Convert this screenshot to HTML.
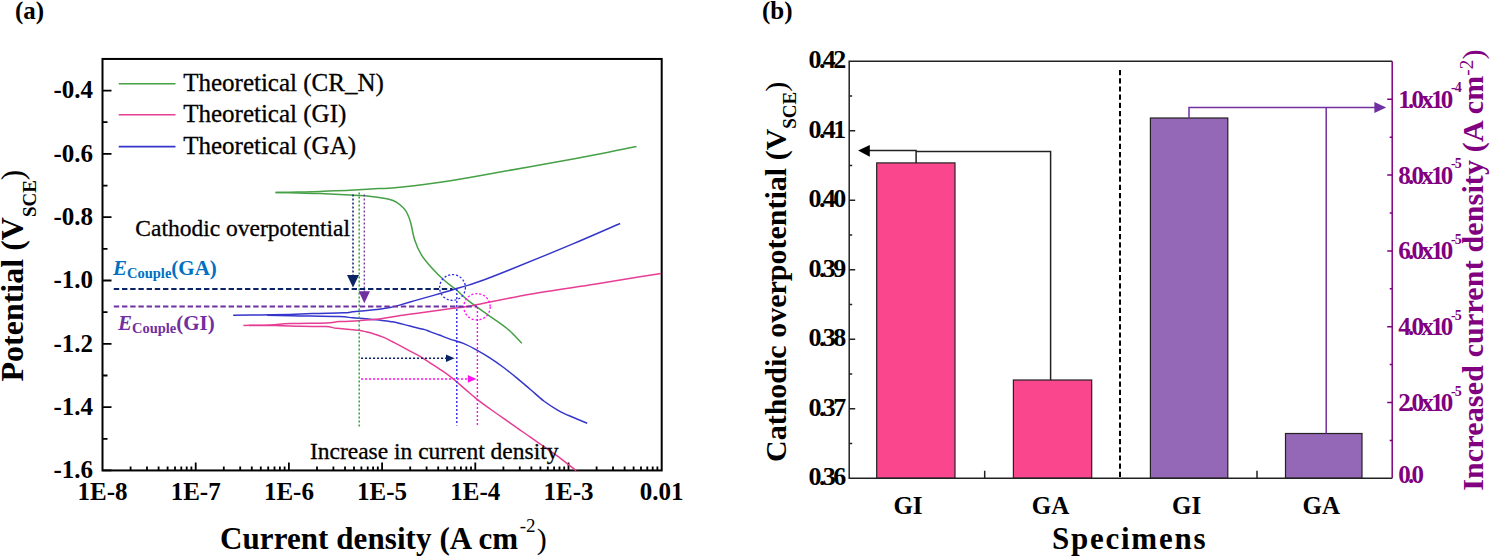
<!DOCTYPE html>
<html><head><meta charset="utf-8"><style>
html,body{margin:0;padding:0;background:#fff;}
svg{display:block;}
text{font-family:"Liberation Serif",serif;}
</style></head><body>
<svg width="1497" height="560" viewBox="0 0 1497 560">
<rect width="1497" height="560" fill="#fff"/>
<text x="15" y="19.3" font-family="Liberation Serif" font-size="25" font-weight="bold">(a)</text>
<rect x="102.5" y="58.94999999999999" width="559.2" height="411.5" fill="none" stroke="#000" stroke-width="2"/>
<path d="M102.5,90.6h9 M102.5,122.2h5 M102.5,153.9h9 M102.5,185.6h5 M102.5,217.2h9 M102.5,248.8h5 M102.5,280.5h9 M102.5,312.1h5 M102.5,343.8h9 M102.5,375.5h5 M102.5,407.1h9 M102.5,438.8h5 M102.5,470.4h9 M130.6,470.4000000000001v-4 M147.0,470.4000000000001v-4 M158.6,470.4000000000001v-4 M167.6,470.4000000000001v-4 M175.0,470.4000000000001v-4 M181.3,470.4000000000001v-4 M186.7,470.4000000000001v-4 M191.4,470.4000000000001v-4 M195.7,470.4000000000001v-8 M223.8,470.4000000000001v-4 M240.2,470.4000000000001v-4 M251.8,470.4000000000001v-4 M260.8,470.4000000000001v-4 M268.2,470.4000000000001v-4 M274.5,470.4000000000001v-4 M279.9,470.4000000000001v-4 M284.6,470.4000000000001v-4 M288.9,470.4000000000001v-8 M317.0,470.4000000000001v-4 M333.4,470.4000000000001v-4 M345.0,470.4000000000001v-4 M354.0,470.4000000000001v-4 M361.4,470.4000000000001v-4 M367.7,470.4000000000001v-4 M373.1,470.4000000000001v-4 M377.8,470.4000000000001v-4 M382.1,470.4000000000001v-8 M410.2,470.4000000000001v-4 M426.6,470.4000000000001v-4 M438.2,470.4000000000001v-4 M447.2,470.4000000000001v-4 M454.6,470.4000000000001v-4 M460.9,470.4000000000001v-4 M466.3,470.4000000000001v-4 M471.0,470.4000000000001v-4 M475.3,470.4000000000001v-8 M503.4,470.4000000000001v-4 M519.8,470.4000000000001v-4 M531.4,470.4000000000001v-4 M540.4,470.4000000000001v-4 M547.8,470.4000000000001v-4 M554.1,470.4000000000001v-4 M559.5,470.4000000000001v-4 M564.2,470.4000000000001v-4 M568.5,470.4000000000001v-8 M596.6,470.4000000000001v-4 M613.0,470.4000000000001v-4 M624.6,470.4000000000001v-4 M633.6,470.4000000000001v-4 M641.0,470.4000000000001v-4 M647.3,470.4000000000001v-4 M652.7,470.4000000000001v-4 M657.4,470.4000000000001v-4" stroke="#000" stroke-width="1.8" fill="none"/>
<text x="93" y="98.4" font-family="Liberation Serif" font-size="25" font-weight="bold" text-anchor="end">-0.4</text>
<text x="93" y="161.7" font-family="Liberation Serif" font-size="25" font-weight="bold" text-anchor="end">-0.6</text>
<text x="93" y="225.0" font-family="Liberation Serif" font-size="25" font-weight="bold" text-anchor="end">-0.8</text>
<text x="93" y="288.3" font-family="Liberation Serif" font-size="25" font-weight="bold" text-anchor="end">-1.0</text>
<text x="93" y="351.6" font-family="Liberation Serif" font-size="25" font-weight="bold" text-anchor="end">-1.2</text>
<text x="93" y="414.9" font-family="Liberation Serif" font-size="25" font-weight="bold" text-anchor="end">-1.4</text>
<text x="93" y="478.2" font-family="Liberation Serif" font-size="25" font-weight="bold" text-anchor="end">-1.6</text>
<text x="102.5" y="500.2" font-family="Liberation Serif" font-size="25" font-weight="bold" text-anchor="middle">1E-8</text>
<text x="195.7" y="500.2" font-family="Liberation Serif" font-size="25" font-weight="bold" text-anchor="middle">1E-7</text>
<text x="288.9" y="500.2" font-family="Liberation Serif" font-size="25" font-weight="bold" text-anchor="middle">1E-6</text>
<text x="382.1" y="500.2" font-family="Liberation Serif" font-size="25" font-weight="bold" text-anchor="middle">1E-5</text>
<text x="475.3" y="500.2" font-family="Liberation Serif" font-size="25" font-weight="bold" text-anchor="middle">1E-4</text>
<text x="568.5" y="500.2" font-family="Liberation Serif" font-size="25" font-weight="bold" text-anchor="middle">1E-3</text>
<text x="661.7" y="500.2" font-family="Liberation Serif" font-size="25" font-weight="bold" text-anchor="middle">0.01</text>
<text x="220" y="549" font-family="Liberation Serif" font-size="31" font-weight="bold" letter-spacing="0.08">Current density (A cm<tspan dy="-16.8" dx="1.5" font-size="19" font-weight="normal">-2</tspan><tspan dy="16.8" dx="1" font-weight="normal" font-size="30">)</tspan></text>
<text transform="translate(23.2,381.5) rotate(-90)" font-family="Liberation Serif" font-size="32" font-weight="bold">Potential (V<tspan dy="12.7" font-size="19">SCE</tspan><tspan dy="-12.7" font-weight="normal" font-size="31">)</tspan></text>
<line x1="118.7" y1="83.8" x2="175.5" y2="83.8" stroke="#46a046" stroke-width="1.6"/>
<text x="183.2" y="91.3" font-family="Liberation Serif" font-size="25" stroke="#000" stroke-width="0.3">Theoretical (CR_N)</text>
<line x1="118.7" y1="114.8" x2="175.5" y2="114.8" stroke="#e63e94" stroke-width="1.6"/>
<text x="183.2" y="122.3" font-family="Liberation Serif" font-size="25" stroke="#000" stroke-width="0.3">Theoretical (GI)</text>
<line x1="118.7" y1="146.6" x2="175.5" y2="146.6" stroke="#3535cc" stroke-width="1.6"/>
<text x="183.2" y="154.1" font-family="Liberation Serif" font-size="25" stroke="#000" stroke-width="0.3">Theoretical (GA)</text>
<path d="M275.5,192.5 C279.2,192.4 290.6,192.3 298.0,192.1 C305.4,191.9 313.8,191.6 320.0,191.4 C326.2,191.2 329.3,191.0 335.0,190.8 C340.7,190.6 346.7,190.4 354.0,190.0 C361.3,189.6 370.9,189.0 378.6,188.6 C386.3,188.2 387.8,188.7 400.0,187.3 C412.2,185.9 434.7,183.1 452.1,180.4 C469.5,177.7 486.8,174.4 504.2,171.3 C521.6,168.2 538.9,165.3 556.3,162.1 C573.7,158.9 595.0,154.8 608.4,152.2 C621.8,149.6 631.8,147.4 636.5,146.5" fill="none" stroke="#46a046" stroke-width="1.5"/>
<path d="M275.5,192.6 C279.2,192.7 290.6,192.8 298.0,193.0 C305.4,193.2 312.2,193.3 320.0,193.6 C327.8,193.9 336.8,194.4 345.0,194.8 C353.2,195.2 361.7,195.6 369.0,196.3 C376.3,197.1 384.3,198.2 389.0,199.3 C393.7,200.4 394.7,201.2 397.0,202.6 C399.3,204.0 401.3,205.8 403.0,207.5 C404.7,209.2 405.8,210.6 407.0,213.0 C408.2,215.4 409.2,217.5 410.5,222.0 C411.8,226.5 412.9,234.5 414.7,240.0 C416.5,245.5 418.5,250.2 421.4,254.9 C424.3,259.6 428.3,264.1 432.1,268.3 C435.9,272.5 440.2,276.7 444.2,280.3 C448.2,283.9 452.0,286.1 456.2,289.7 C460.4,293.3 464.2,297.5 469.6,301.7 C475.0,305.9 482.1,310.6 488.3,315.1 C494.5,319.6 501.4,323.8 507.0,328.5 C512.6,333.2 519.3,340.8 521.8,343.2" fill="none" stroke="#46a046" stroke-width="1.5"/>
<path d="M233.2,315.2 C237.7,315.2 250.5,315.1 260.0,315.0 C269.5,314.9 281.3,314.6 290.0,314.4 C298.7,314.1 303.4,313.8 312.3,313.5 C321.2,313.2 336.9,313.1 343.6,312.8 C350.3,312.5 349.5,312.1 352.5,311.8 C355.5,311.5 356.9,311.3 361.4,310.9 C365.9,310.5 374.5,309.8 379.3,309.2 C384.1,308.6 386.9,308.2 390.0,307.6 C393.1,307.0 393.6,306.8 397.9,305.6 C402.2,304.4 409.8,302.1 415.7,300.4 C421.6,298.7 427.7,297.1 433.6,295.4 C439.6,293.7 445.4,291.9 451.4,290.2 C457.3,288.4 464.5,286.4 469.3,284.9 C474.1,283.4 473.4,283.8 480.0,281.3 C486.6,278.9 493.1,276.4 508.6,270.2 C524.1,264.0 554.3,251.7 572.9,243.9 C591.5,236.1 612.2,226.9 620.1,223.5" fill="none" stroke="#3535cc" stroke-width="1.5"/>
<path d="M267.1,315.2 C272.4,315.3 286.9,315.7 298.9,315.9 C310.9,316.1 330.2,316.3 339.1,316.6 C348.0,316.9 348.0,317.4 352.5,317.8 C357.0,318.2 361.4,318.4 365.9,318.8 C370.4,319.2 375.3,319.7 379.3,320.1 C383.3,320.6 386.9,321.0 390.0,321.5 C393.1,322.0 394.6,322.1 397.9,322.9 C401.2,323.7 405.6,325.0 410.0,326.1 C414.4,327.2 421.3,328.7 424.6,329.6 C427.9,330.5 427.4,330.7 430.0,331.6 C432.6,332.6 436.7,334.1 440.0,335.3 C443.3,336.6 446.1,337.8 450.0,339.1 C453.9,340.5 458.9,341.6 463.4,343.4 C467.9,345.2 472.3,347.7 476.8,350.1 C481.3,352.6 485.7,355.2 490.2,358.1 C494.7,361.0 499.1,364.1 503.6,367.5 C508.1,370.9 512.5,374.5 517.0,378.2 C521.5,381.9 525.9,385.7 530.4,389.5 C534.9,393.3 539.3,397.6 543.8,401.0 C548.3,404.4 552.8,407.2 557.2,409.8 C561.7,412.4 565.5,414.1 570.5,416.3 C575.5,418.5 584.4,422.1 587.2,423.2" fill="none" stroke="#3535cc" stroke-width="1.5"/>
<path d="M243.4,325.4 C247.8,325.3 262.2,325.3 270.0,325.0 C277.8,324.7 280.7,324.0 290.0,323.6 C299.3,323.2 317.5,323.2 325.7,322.9 C333.9,322.6 333.6,322.0 339.1,321.6 C344.6,321.2 352.1,321.1 358.8,320.7 C365.4,320.3 372.8,319.9 379.3,319.1 C385.8,318.3 391.8,316.8 397.9,315.9 C404.0,315.0 409.8,314.3 415.7,313.5 C421.6,312.7 427.7,311.7 433.6,310.9 C439.6,310.1 445.4,309.4 451.4,308.6 C457.3,307.8 464.9,306.9 469.3,306.2 C473.7,305.5 467.4,306.6 477.5,304.6 C487.6,302.6 510.5,297.6 530.0,294.2 C549.5,290.8 576.1,287.1 594.4,284.2 C612.7,281.3 628.9,278.5 640.0,276.7 C651.1,274.9 657.5,273.9 661.0,273.4" fill="none" stroke="#e63e94" stroke-width="1.5"/>
<path d="M248.9,325.4 C253.3,325.4 266.6,325.4 275.2,325.5 C283.8,325.6 292.3,326.1 300.7,326.3 C309.1,326.5 319.8,326.3 325.7,326.6 C331.6,326.9 332.7,327.9 336.4,328.3 C340.1,328.8 344.3,329.0 348.0,329.3 C351.7,329.6 355.8,329.9 358.8,330.3 C361.7,330.7 363.2,331.1 365.9,331.7 C368.6,332.3 371.8,333.2 374.8,334.2 C377.8,335.1 380.9,336.2 383.8,337.4 C386.6,338.6 389.3,340.1 392.0,341.5 C394.7,342.9 397.0,344.1 400.0,345.7 C403.0,347.3 406.7,349.3 410.0,351.1 C413.3,352.9 416.7,354.4 420.0,356.4 C423.3,358.4 426.7,360.8 430.0,362.9 C433.3,365.0 436.7,367.1 440.0,369.3 C443.3,371.6 446.1,373.3 450.0,376.4 C453.9,379.4 458.9,383.8 463.4,387.6 C467.9,391.4 472.3,395.5 476.8,399.1 C481.3,402.7 485.7,405.8 490.2,409.0 C494.7,412.2 499.1,415.3 503.6,418.4 C508.1,421.5 512.5,424.7 517.0,427.8 C521.5,430.9 525.9,434.1 530.4,437.2 C534.9,440.3 539.3,443.4 543.8,446.5 C548.3,449.6 552.1,452.1 557.2,455.9 C562.3,459.7 571.4,466.9 574.6,469.3 C577.8,471.7 575.9,470.2 576.2,470.4" fill="none" stroke="#e63e94" stroke-width="1.5"/>
<line x1="353" y1="194.5" x2="353" y2="276" stroke="#0b2466" stroke-width="1.5" stroke-dasharray="2.1 1.9"/>
<polygon points="347,275 359,275 353,287.5" fill="#0b2466"/>
<line x1="359.2" y1="192.5" x2="359.2" y2="428" stroke="#3fa64a" stroke-width="1.6" stroke-dasharray="2.1 1.9"/>
<line x1="364.3" y1="194.5" x2="364.3" y2="292" stroke="#7030a0" stroke-width="1.3" stroke-dasharray="2.1 1.9"/>
<polygon points="358.7,291.2 370,291.2 364.3,303.2" fill="#7030a0"/>
<line x1="113.8" y1="288.9" x2="452.5" y2="288.9" stroke="#0b2466" stroke-width="2" stroke-dasharray="5.4 2.8"/>
<line x1="113.8" y1="306.4" x2="477" y2="306.4" stroke="#7030a0" stroke-width="2" stroke-dasharray="5.4 2.8"/>
<circle cx="452.5" cy="287.5" r="12.9" fill="none" stroke="#2a2ae8" stroke-width="1.3" stroke-dasharray="2.1 1.9"/>
<circle cx="477" cy="306.8" r="13.2" fill="none" stroke="#ff10f0" stroke-width="1.3" stroke-dasharray="2.1 1.9"/>
<line x1="456.8" y1="289" x2="456.8" y2="425.5" stroke="#2a2ae8" stroke-width="1.4" stroke-dasharray="2.1 1.9"/>
<line x1="477.4" y1="307" x2="477.4" y2="425" stroke="#ff10f0" stroke-width="1.4" stroke-dasharray="2.1 1.9"/>
<line x1="361" y1="358.3" x2="447" y2="358.3" stroke="#0b2466" stroke-width="1.5" stroke-dasharray="2.1 1.9"/>
<polygon points="446,354.5 446,362.1 454.6,358.3" fill="#0b2466"/>
<line x1="361" y1="378.9" x2="469" y2="378.9" stroke="#ff10f0" stroke-width="1.5" stroke-dasharray="2.1 1.9"/>
<polygon points="467.8,375.1 467.8,382.7 476.4,378.9" fill="#ff10f0"/>
<text x="135.3" y="236.3" font-family="Liberation Serif" font-size="23.5" stroke="#000" stroke-width="0.3">Cathodic overpotential</text>
<text x="309.9" y="458.7" font-family="Liberation Serif" font-size="23.5" stroke="#000" stroke-width="0.3">Increase in current density</text>
<text x="113" y="275" font-family="Liberation Serif" font-size="21" font-weight="bold" fill="#0070c0"><tspan font-style="italic">E</tspan><tspan font-size="14.5" dy="3">Couple</tspan><tspan dy="-3">(GA)</tspan></text>
<text x="117.9" y="329.5" font-family="Liberation Serif" font-size="21" font-weight="bold" fill="#7030a0"><tspan font-style="italic">E</tspan><tspan font-size="14.5" dy="3">Couple</tspan><tspan dy="-3">(GI)</tspan></text>
<text x="762" y="19.3" font-family="Liberation Serif" font-size="25" font-weight="bold">(b)</text>
<rect x="876.7" y="162.9" width="78.3" height="315.4" fill="#f9468d" stroke="#222" stroke-width="1.2"/>
<rect x="1013.4" y="380" width="78.3" height="98.3" fill="#f9468d" stroke="#222" stroke-width="1.2"/>
<rect x="1150.4" y="118" width="77.4" height="360.3" fill="#9468b6" stroke="#222" stroke-width="1.2"/>
<rect x="1285.5" y="433.5" width="76.5" height="44.8" fill="#9468b6" stroke="#222" stroke-width="1.2"/>
<path d="M1392.2,61.3H849.2V478.3H1392.2" fill="none" stroke="#222" stroke-width="1.5"/>
<line x1="1392.2" y1="61.3" x2="1392.2" y2="478.3" stroke="#800080" stroke-width="1.5"/>
<path d="M849.2,443.5h3 M849.2,408.8h6 M849.2,374.0h3 M849.2,339.3h6 M849.2,304.5h3 M849.2,269.8h6 M849.2,235.0h3 M849.2,200.3h6 M849.2,165.6h3 M849.2,130.8h6 M849.2,96.1h3 M984.7,478.3v-7.5 M1257,478.3v-7.5" stroke="#222" stroke-width="1.5" fill="none"/>
<text x="843.6" y="485.4" font-family="Liberation Serif" font-size="26" font-weight="bold" text-anchor="end" letter-spacing="-2.6">0.36</text>
<text x="843.6" y="415.9" font-family="Liberation Serif" font-size="26" font-weight="bold" text-anchor="end" letter-spacing="-2.6">0.37</text>
<text x="843.6" y="346.4" font-family="Liberation Serif" font-size="26" font-weight="bold" text-anchor="end" letter-spacing="-2.6">0.38</text>
<text x="843.6" y="276.9" font-family="Liberation Serif" font-size="26" font-weight="bold" text-anchor="end" letter-spacing="-2.6">0.39</text>
<text x="843.6" y="207.4" font-family="Liberation Serif" font-size="26" font-weight="bold" text-anchor="end" letter-spacing="-2.6">0.40</text>
<text x="843.6" y="137.9" font-family="Liberation Serif" font-size="26" font-weight="bold" text-anchor="end" letter-spacing="-2.6">0.41</text>
<text x="843.6" y="68.4" font-family="Liberation Serif" font-size="26" font-weight="bold" text-anchor="end" letter-spacing="-2.6">0.42</text>
<path d="M1392.2,440.4h-2.5 M1392.2,402.5h-5 M1392.2,364.6h-2.5 M1392.2,326.7h-5 M1392.2,288.8h-2.5 M1392.2,250.9h-5 M1392.2,213.0h-2.5 M1392.2,175.1h-5 M1392.2,137.2h-2.5 M1392.2,99.3h-5" stroke="#800080" stroke-width="1.5" fill="none"/>
<text x="1398.3" y="483.4" font-family="Liberation Serif" font-size="25" font-weight="bold" fill="#800080" letter-spacing="-2.75">0.0</text>
<text x="1398.3" y="410.9" font-family="Liberation Serif" font-size="25" font-weight="bold" fill="#800080" letter-spacing="-2.75">2.0x10<tspan dy="-15.3" dx="0.5" font-size="14" letter-spacing="-1">-5</tspan></text>
<text x="1398.3" y="335.1" font-family="Liberation Serif" font-size="25" font-weight="bold" fill="#800080" letter-spacing="-2.75">4.0x10<tspan dy="-15.3" dx="0.5" font-size="14" letter-spacing="-1">-5</tspan></text>
<text x="1398.3" y="259.3" font-family="Liberation Serif" font-size="25" font-weight="bold" fill="#800080" letter-spacing="-2.75">6.0x10<tspan dy="-15.3" dx="0.5" font-size="14" letter-spacing="-1">-5</tspan></text>
<text x="1398.3" y="183.5" font-family="Liberation Serif" font-size="25" font-weight="bold" fill="#800080" letter-spacing="-2.75">8.0x10<tspan dy="-15.3" dx="0.5" font-size="14" letter-spacing="-1">-5</tspan></text>
<text x="1398.3" y="107.7" font-family="Liberation Serif" font-size="25" font-weight="bold" fill="#800080" letter-spacing="-2.75">1.0x10<tspan dy="-15.3" dx="0.5" font-size="14" letter-spacing="-1">-4</tspan></text>
<path d="M916.1,162.9V150.4H869 M916.1,151.6H1050.6V380" fill="none" stroke="#222" stroke-width="1.5"/>
<polygon points="858.1,150.4 869.8,145 869.8,156.7" fill="#000"/>
<path d="M1189,118V107.6H1375 M1326.2,107.6V433.5" fill="none" stroke="#7030a0" stroke-width="1.5"/>
<polygon points="1386.2,107.5 1374.4,101.9 1374.4,113.1" fill="#7030a0"/>
<line x1="1120" y1="70" x2="1120" y2="478.3" stroke="#000" stroke-width="2" stroke-dasharray="5.2 3"/>
<text x="908" y="514.2" font-family="Liberation Serif" font-size="25" font-weight="bold" text-anchor="middle">GI</text>
<text x="1050.6" y="514.2" font-family="Liberation Serif" font-size="25" font-weight="bold" text-anchor="middle">GA</text>
<text x="1186.6" y="514.2" font-family="Liberation Serif" font-size="25" font-weight="bold" text-anchor="middle">GI</text>
<text x="1321.2" y="514.2" font-family="Liberation Serif" font-size="25" font-weight="bold" text-anchor="middle">GA</text>
<text x="1052" y="548.6" font-family="Liberation Serif" font-size="31" font-weight="bold" letter-spacing="1.75">Specimens</text>
<text transform="translate(786,462) rotate(-90)" font-family="Liberation Serif" font-size="30" font-weight="bold">Cathodic overpotential (V<tspan dy="9.8" font-size="19">SCE</tspan><tspan dy="-9.8" font-weight="normal">)</tspan></text>
<text transform="translate(1483.3,490.8) rotate(-90)" font-family="Liberation Serif" font-size="30" font-weight="bold" fill="#800080" letter-spacing="0.15">Increased current density (A cm<tspan dy="-10.6" font-size="19" font-weight="normal">-2</tspan><tspan dy="10.6" font-weight="normal">)</tspan></text>
</svg>
</body></html>
